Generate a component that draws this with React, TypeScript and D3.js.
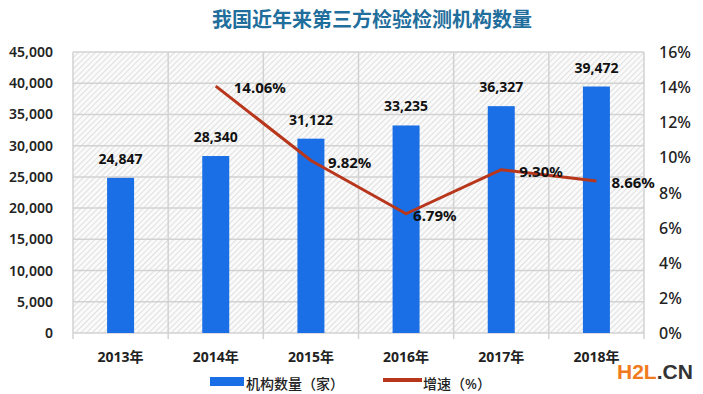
import React from "react";
import * as d3 from "d3";

const years = ["2013年", "2014年", "2015年", "2016年", "2017年", "2018年"];
const counts = [24847, 28340, 31122, 33235, 36327, 39472];
const growthYears = ["2014年", "2015年", "2016年", "2017年", "2018年"];
const growth = [14.06, 9.82, 6.79, 9.3, 8.66];
const leftTicks = [0, 5000, 10000, 15000, 20000, 25000, 30000, 35000, 40000, 45000];
const rightTicks = [0, 2, 4, 6, 8, 10, 12, 14, 16];
const growthLabelDx = [18, 17, 7, 18, 15];

const W = 703, H = 394;
const M = { left: 73, right: 644, top: 52, bottom: 333 };
const FONT = "'Noto Sans', 'Noto Sans CJK SC', sans-serif";

export default function App() {
  const x = d3.scaleBand().domain(years).range([M.left, M.right]);
  const yL = d3.scaleLinear().domain([0, 45000]).range([M.bottom, M.top]);
  const yR = d3.scaleLinear().domain([0, 16]).range([M.bottom, M.top]);
  const fmt = d3.format(",");
  const cx = (c: string) => (x(c) as number) + x.bandwidth() / 2;
  const barW = 27;
  const line = d3
    .line<number>()
    .x((_, i) => cx(growthYears[i]))
    .y((d) => yR(d));

  return (
    <svg width={W} height={H} style={{ position: "absolute", left: 0, top: 0, background: "#fff" }} fontFamily={FONT}>
      <defs>
        <pattern id="hatch" width="4" height="4" patternUnits="userSpaceOnUse" patternTransform="rotate(45)">
          <rect width="4" height="4" fill="#fafafa" />
          <line x1="0" y1="0" x2="0" y2="4" stroke="#cfcfcf" strokeWidth="1.2" />
        </pattern>
      </defs>
      <text x={372} y={27} textAnchor="middle" fontSize={20} fontWeight={700} fill="#1f6e9c">
        我国近年来第三方检验检测机构数量
      </text>
      <rect x={M.left} y={M.top} width={M.right - M.left} height={M.bottom - M.top} fill="url(#hatch)" />
      {leftTicks.map((t) => (
        <line key={"h" + t} x1={M.left} x2={M.right} y1={yL(t)} y2={yL(t)} stroke="#d2d2d2" strokeWidth={1.5} />
      ))}
      {years.map((c) => (
        <line key={"v" + c} x1={x(c) as number} x2={x(c) as number} y1={M.top} y2={M.bottom + 6} stroke="#d2d2d2" strokeWidth={1.5} />
      ))}
      <line x1={M.right} x2={M.right} y1={M.top} y2={M.bottom + 6} stroke="#d2d2d2" strokeWidth={1.5} />
      {leftTicks.map((t) => (
        <text key={"lt" + t} x={53} y={yL(t) + 5} textAnchor="end" fontSize={14} fontWeight={600} fill="#222">
          {fmt(t)}
        </text>
      ))}
      {rightTicks.map((t) => (
        <text key={"rt" + t} x={659} y={yR(t) + 6} textAnchor="start" fontSize={16} fontWeight={500} fill="#222">
          {t + "%"}
        </text>
      ))}
      {years.map((c, i) => (
        <g key={"b" + c}>
          <rect x={cx(c) - barW / 2} y={yL(counts[i])} width={barW} height={M.bottom - yL(counts[i])} fill="#1a6fe6" />
          <text x={cx(c)} y={yL(counts[i]) - 14} textAnchor="middle" fontSize={14} fontWeight={700} fill="#111">
            {fmt(counts[i])}
          </text>
          <text x={cx(c)} y={362} textAnchor="middle" fontSize={14} fontWeight={700} fill="#222">
            {c}
          </text>
        </g>
      ))}
      <path d={line(growth) as string} fill="none" stroke="#b8361c" strokeWidth={3} strokeLinejoin="round" />
      {growth.map((g, i) => (
        <text key={"g" + i} x={cx(growthYears[i]) + growthLabelDx[i]} y={yR(g) + 7} fontSize={15} fontWeight={700} fill="#111">
          {g.toFixed(2) + "%"}
        </text>
      ))}
      <rect x={210} y={377} width={34} height={9} fill="#1a6fe6" />
      <text x={246} y={389} fontSize={14} fontWeight={500} fill="#222">机构数量（家）</text>
      <line x1={383} x2={422} y1={380} y2={380} stroke="#b8361c" strokeWidth={4} />
      <text x={423} y={389} fontSize={14} fontWeight={500} fill="#222">增速（%）</text>
      <text x={617} y={379} fontSize={21} fontWeight={700} fontFamily="'Liberation Sans', Arial, sans-serif">
        <tspan fill="#f07a1e">H2L</tspan>
        <tspan fill="#333">.CN</tspan>
      </text>
    </svg>
  );
}
